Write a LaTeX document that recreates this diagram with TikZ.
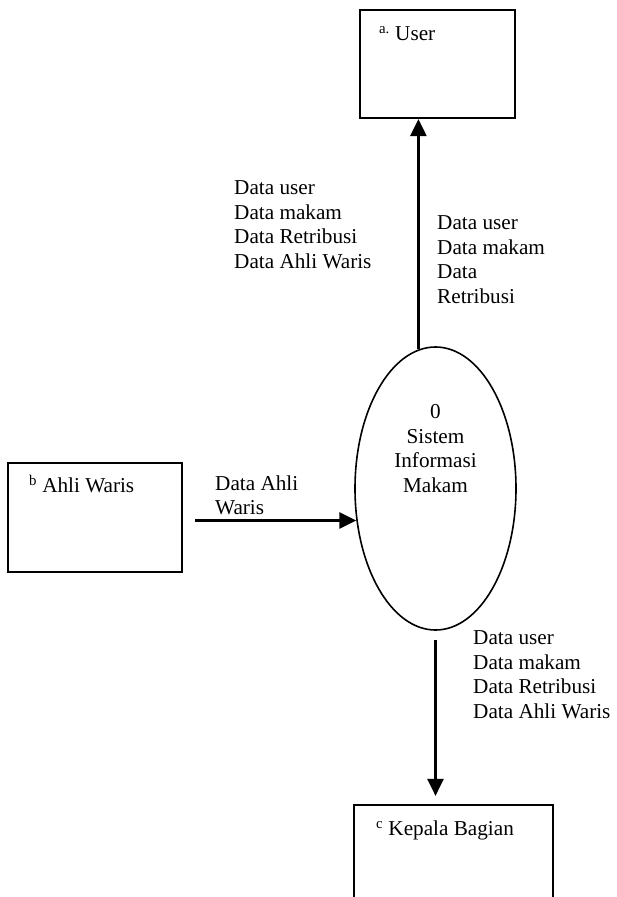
\documentclass[tikz,border=0pt]{standalone}
\usepackage{fontspec}
\setmainfont{Liberation Serif}
\usetikzlibrary{arrows.meta, positioning, shapes.geometric, calc}

\begin{document}
\begin{tikzpicture}[
      x=1pt, y=-1pt,
      font=\fontsize{21.2}{24.5}\selectfont,
      entity/.style={rectangle, draw, line width=2.2pt, inner sep=0pt},
      proses/.style={ellipse, draw, line width=1.6pt, inner sep=0pt, minimum width=161pt, minimum height=283pt},
      lbl/.style={inner sep=0pt, align=left, anchor=north west},
      arr/.style={-{Triangle[length=17pt, width=16pt]}, line width=2.6pt}
    ]
      \useasboundingbox (0, 0) rectangle (616, 897);

      \node[entity, minimum width=155pt, minimum height=108pt] (U) at (437.5, 64) {};
      \node[entity, minimum width=174pt, minimum height=109pt] (A) at (95, 517.5) {};
      \node[entity, minimum width=199pt, minimum height=140pt] (K) at (453.5, 875) {};
      \node[proses] (P) at (435.5, 488.5) {};

      \node[lbl, anchor=base west] (Ut) at ($(U.north west)+(20, 32)$) {\textsuperscript{a.} User};
      \node[lbl, anchor=base west] (At) at ($(A.north west)+(22, 31)$) {\textsuperscript{b} Ahli Waris};
      \node[lbl, anchor=base west] (Kt) at ($(K.north west)+(23, 32)$) {\textsuperscript{c} Kepala Bagian};
      \node[inner sep=0pt, align=center, anchor=north] (Pt) at (435.5, 404.5) {0\\Sistem\\Informasi\\Makam};

      \draw[arr] (P.97) -- (P.97 |- U.south);
      \draw[arr, shorten <=12pt] (A.east |- P.202) -- (P.202);
      \draw[arr, shorten <=9pt, shorten >=8pt] (P.south) -- (P.south |- K.north);

      \node[lbl] (L1) at (234, 180.5) {Data user\\Data makam\\Data Retribusi\\Data Ahli Waris};
      \node[lbl] (L2) at (437, 215.5) {Data user\\Data makam\\Data\\Retribusi};
      \node[lbl] (L3) at (215, 475.5) {Data Ahli\\Waris};
      \node[lbl] (L4) at (473, 630.5) {Data user\\Data makam\\Data Retribusi\\Data Ahli Waris};
    \end{tikzpicture}
\end{document}
